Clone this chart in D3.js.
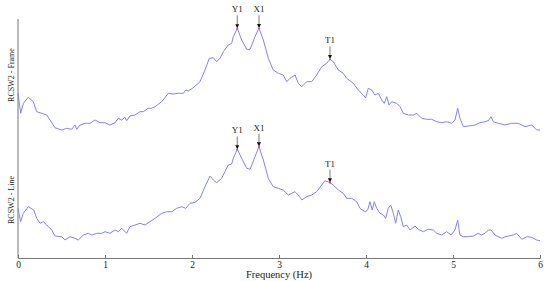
<!DOCTYPE html>
<html><head><meta charset="utf-8">
<script src="https://cdn.jsdelivr.net/npm/d3@7"></script>
<style>body{margin:0;background:#fff}svg{display:block}text{font-family:"Liberation Serif","DejaVu Serif",serif;fill:#222}</style>
</head><body><svg id="c" width="550" height="281"></svg>
<script>
const freqFrame = [0,0.031,0.061,0.118,0.176,0.215,0.272,0.33,0.368,0.425,0.502,0.56,0.617,0.655,0.675,0.713,0.77,0.828,0.885,0.943,1.0,1.057,1.115,1.153,1.192,1.23,1.249,1.287,1.345,1.402,1.44,1.498,1.537,1.575,1.652,1.728,1.785,1.843,1.9,1.928,1.957,2.01,2.092,2.149,2.199,2.245,2.284,2.322,2.36,2.417,2.456,2.475,2.521,2.571,2.629,2.667,2.724,2.77,2.82,2.877,2.934,2.992,3.049,3.089,3.126,3.184,3.222,3.261,3.318,3.376,3.433,3.491,3.548,3.586,3.624,3.682,3.739,3.778,3.854,3.911,3.969,3.995,4.026,4.066,4.103,4.141,4.18,4.21,4.238,4.264,4.295,4.353,4.391,4.429,4.486,4.544,4.583,4.64,4.698,4.755,4.813,4.87,4.928,4.985,5.023,5.054,5.08,5.118,5.176,5.253,5.31,5.368,5.406,5.437,5.463,5.521,5.598,5.675,5.751,5.828,5.905,5.962,6.0];
const ampFrame = [4.67,2.67,3.67,4.27,3.83,2.83,2.67,2.5,2.0,1.23,1.0,1.17,1.07,1.5,1.07,1.5,1.67,1.67,2.0,1.73,1.73,1.5,1.73,2.17,2.0,2.27,1.93,2.4,2.5,2.83,2.83,3.17,3.17,3.33,3.83,4.67,4.6,4.67,4.67,5.0,4.9,5.2,5.83,7.0,8.17,8.23,7.83,8.17,8.83,9.5,9.67,10.33,11.17,10.0,9.07,9.07,10.33,11.17,10.0,8.17,7.0,6.67,6.5,5.83,6.17,6.5,5.67,5.33,5.83,5.83,6.5,7.33,7.67,8.07,7.83,7.0,6.67,6.17,5.67,5.0,4.5,4.2,5.17,5.0,4.5,4.67,4.0,3.67,4.33,3.5,3.83,3.67,3.33,2.67,2.5,2.5,2.67,2.17,2.07,2.07,1.83,1.73,1.83,1.67,2.0,3.17,2.17,1.33,1.4,1.5,1.73,1.83,1.93,2.33,1.83,1.67,1.5,1.67,1.67,1.33,1.5,1.0,1.0];

const freqLine = [0,0.03,0.06,0.12,0.18,0.215,0.253,0.291,0.33,0.387,0.425,0.502,0.54,0.598,0.655,0.693,0.751,0.808,0.847,0.905,0.962,1.0,1.057,1.115,1.153,1.192,1.249,1.287,1.345,1.402,1.46,1.517,1.575,1.652,1.709,1.767,1.824,1.882,1.928,1.977,2.034,2.092,2.149,2.207,2.245,2.284,2.341,2.379,2.417,2.456,2.475,2.521,2.571,2.629,2.667,2.724,2.77,2.82,2.877,2.934,2.992,3.049,3.107,3.146,3.184,3.222,3.261,3.318,3.376,3.433,3.491,3.529,3.586,3.624,3.682,3.739,3.778,3.836,3.893,3.931,3.989,4.019,4.046,4.072,4.095,4.123,4.161,4.199,4.226,4.256,4.284,4.314,4.341,4.371,4.399,4.429,4.468,4.506,4.563,4.601,4.659,4.716,4.774,4.813,4.87,4.928,4.977,5.023,5.054,5.08,5.118,5.176,5.233,5.291,5.33,5.368,5.406,5.437,5.483,5.521,5.56,5.598,5.636,5.693,5.732,5.79,5.847,5.905,5.962,6.0];
const ampLine = [5.17,3.83,4.67,5.33,5.0,4.17,3.67,3.83,3.5,3.0,2.4,2.33,2.0,2.33,2.17,2.0,2.5,2.67,2.5,2.67,2.67,2.83,2.67,3.0,2.83,3.17,2.67,3.33,3.5,3.67,3.5,3.83,4.17,4.67,4.83,4.83,5.17,5.33,5.17,5.67,5.75,6.17,7.33,8.4,8.0,7.73,8.17,8.83,9.5,9.6,10.17,11.07,10.17,9.17,9.07,10.33,11.33,10.0,8.17,7.33,7.17,7.0,6.5,6.67,6.83,6.5,6.0,6.33,6.5,6.83,7.5,7.93,7.73,7.5,7.0,6.67,6.17,6.17,5.83,5.17,4.83,5.0,5.83,5.0,5.83,5.17,4.67,4.5,4.17,5.17,5.5,4.67,3.67,5.0,4.33,3.33,3.5,3.0,3.4,3.07,2.83,3.07,3.0,2.67,2.5,2.83,2.5,3.0,4.0,2.5,2.33,2.33,2.4,2.67,2.5,2.67,3.0,3.0,2.5,2.33,2.17,2.33,2.4,2.5,2.67,2.07,2.33,2.27,2.0,1.93];

const xTicks = [0,1,2,3,4,5,6];
const panelLabels = ["RCSW2 - Frame", "RCSW2 - Line"];
const peakLabels = ["Y1", "X1", "T1"];
const peakFreqs = [2.52, 2.77, 3.586];

const svg = d3.select("#c");
const x = d3.scaleLinear().domain([0, 6]).range([18, 540]);
const yTop = d3.scaleLinear().domain([0, 12]).range([140, 20]);
const yBot = d3.scaleLinear().domain([0, 12]).range([260, 140]);

const defs = svg.append("defs");
defs.append("marker").attr("id","ah").attr("viewBox","0 0 6 6").attr("refX",5).attr("refY",3)
  .attr("markerWidth",5).attr("markerHeight",5).attr("orient","auto")
  .append("path").attr("d","M0,0L6,3L0,6Z").attr("fill","#111");

// axes
const xAxis = d3.axisBottom(x).tickValues(xTicks).tickSize(-3).tickPadding(3).tickFormat(d3.format("d"));
const gx = svg.append("g").attr("transform","translate(0,258)").call(xAxis);
gx.select(".domain").attr("stroke","#777");
gx.selectAll(".tick line").attr("stroke","#777");
gx.selectAll(".tick text").attr("font-size",9.5).attr("fill","#222");
svg.append("line").attr("x1",x(0)).attr("x2",x(0)).attr("y1",19).attr("y2",258).attr("stroke","#777");

svg.append("text").attr("x",279).attr("y",278).attr("text-anchor","middle").attr("font-size",10.5).text("Frequency (Hz)");

const panels = [
  {f: freqFrame, a: ampFrame, y: yTop, label: panelLabels[0], cy: 75},
  {f: freqLine, a: ampLine, y: yBot, label: panelLabels[1], cy: 200}
];
const bis = d3.bisector(d => d).left;
panels.forEach(p => {
  const data = p.f.map((f,i)=>[f,p.a[i]]);
  const line = d3.line().x(d=>x(d[0])).y(d=>p.y(d[1]));
  svg.append("path").datum(data).attr("d",line).attr("fill","none")
    .attr("stroke","#8282fa").attr("stroke-width",1);
  svg.append("text").attr("transform",`translate(14,${p.cy}) rotate(-90)`)
    .attr("text-anchor","middle").attr("font-size",8).text(p.label);
  peakFreqs.forEach((pf,k) => {
    const i = Math.min(bis(p.f, pf), p.f.length-1);
    const i0 = Math.max(i-1,0);
    const t = p.f[i]===p.f[i0] ? 0 : (pf - p.f[i0])/(p.f[i]-p.f[i0]);
    const av = p.a[i0] + t*(p.a[i]-p.a[i0]);
    const px = x(pf), py = p.y(av);
    svg.append("line").attr("x1",px).attr("x2",px).attr("y1",py-13).attr("y2",py-1)
      .attr("stroke","#555").attr("stroke-width",0.8).attr("marker-end","url(#ah)");
    svg.append("circle").attr("cx",px).attr("cy",py).attr("r",0.9).attr("fill","#e33");
    svg.append("text").attr("x",px).attr("y",py-16).attr("text-anchor","middle")
      .attr("font-size",9).text(peakLabels[k]);
  });
});
</script></body></html>
